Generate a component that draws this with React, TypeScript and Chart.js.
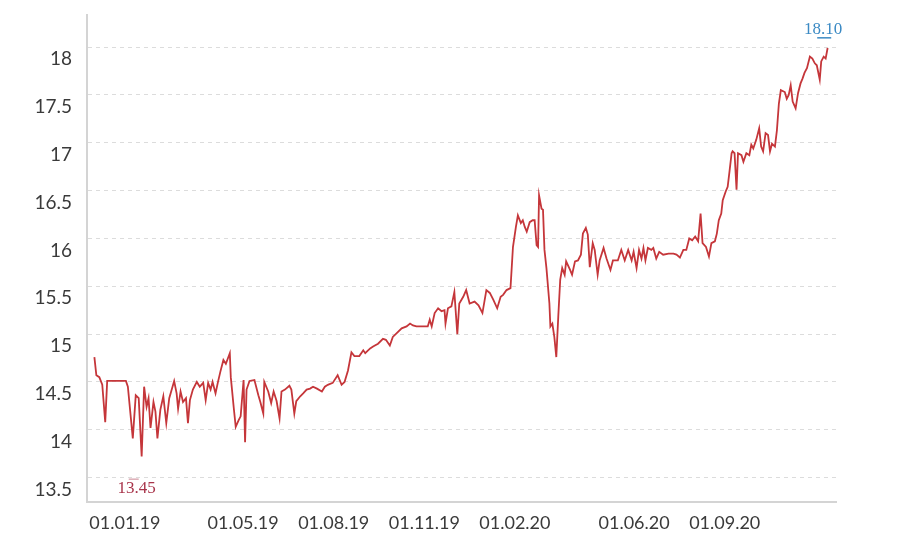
import React, { useEffect, useRef } from "react";
import { Chart, registerables } from "chart.js";

Chart.register(...registerables);

// Days counted from 01.01.2019
const dayOffsets: number[] = [
  -31, -29, -26, -23, -20, -18, 1, 3, 8, 11, 14, 17, 19.5, 22, 24, 26, 29, 31, 33, 36,
  39, 42, 45, 50, 52.5, 54, 56.5, 59, 62, 64, 66, 69, 73, 76, 79.5, 82, 84.5, 87, 89, 92,
  94.5, 97, 100, 102.5, 106.5, 107.5, 110.5, 112.5, 115.5, 117.5, 120.5, 122, 123.5, 126.5, 131.5, 135.5, 137.5, 140.5, 141.5, 145.5,
  148.5, 151, 154, 157, 159, 162.5, 167, 169, 172, 174, 178, 181, 184.5, 188, 191, 195, 200, 203, 206, 211,
  216, 220, 223, 226.5, 230, 233, 238, 242, 244, 249, 252, 257, 262, 265, 269, 272, 276, 281, 286, 289.5,
  292.5, 296, 302.5, 307.5, 309.5, 311.5, 314.5, 318, 321.5, 324.5, 325.5, 328, 331.5, 334.5, 337.5, 339.5, 343.5, 346.5, 350, 355,
  359, 363, 367, 370.5, 374, 378, 381.5, 384, 387.5, 391.5, 394, 397, 399, 402, 404, 406, 408, 411, 414, 416,
  418, 419.5, 420.5, 423, 424.5, 426, 428, 431, 432, 434, 436, 438, 440, 442, 444, 446.5, 448, 452, 454, 457,
  460, 463, 465, 468, 470, 472, 475, 477, 480, 482, 486, 489, 493, 495.5, 500.5, 504, 507.5, 511, 514.5, 516.5,
  519.5, 522, 524.5, 526.5, 528.5, 531, 534.5, 536.5, 539.5, 542.5, 546.5, 552, 557, 560, 563.5, 567, 570, 573, 576, 579,
  582, 584.5, 586.5, 590, 593, 595.5, 599, 601, 603, 605.5, 607, 610, 612, 614, 616, 617, 619, 621, 622.5, 626,
  628, 631, 634, 636, 638, 641, 644, 646, 648, 650.5, 653, 655, 657, 660, 662, 664, 666, 670, 672, 674,
  676, 678, 681, 683.5, 686, 688, 690, 692.5, 695.5, 698, 700.5, 702.5, 705.5, 707, 709.5, 711.5, 713.5,
];

const rates: number[] = [
  14.76, 14.57, 14.55, 14.47, 14.08, 14.51, 14.51, 14.45, 13.91, 14.36, 14.33, 13.72, 14.45, 14.24, 14.33, 14.02, 14.29, 14.19, 13.91, 14.21,
  14.35, 14.07, 14.33, 14.51, 14.38, 14.22, 14.40, 14.29, 14.33, 14.07, 14.31, 14.42, 14.50, 14.45, 14.49, 14.31, 14.49, 14.42, 14.50, 14.38,
  14.50, 14.61, 14.73, 14.69, 14.80, 14.55, 14.23, 14.03, 14.10, 14.14, 14.52, 13.87, 14.42, 14.51, 14.52, 14.36, 14.29, 14.17, 14.50, 14.40,
  14.28, 14.40, 14.30, 14.12, 14.40, 14.42, 14.46, 14.42, 14.17, 14.30, 14.35, 14.38, 14.42, 14.43, 14.45, 14.43, 14.40, 14.45, 14.47, 14.49,
  14.57, 14.47, 14.50, 14.62, 14.81, 14.77, 14.77, 14.83, 14.80, 14.85, 14.87, 14.90, 14.95, 14.94, 14.88, 14.97, 15.01, 15.06, 15.08, 15.11,
  15.09, 15.08, 15.08, 15.08, 15.15, 15.08, 15.22, 15.27, 15.24, 15.25, 15.11, 15.27, 15.29, 15.44, 15.00, 15.32, 15.39, 15.46, 15.32, 15.34,
  15.30, 15.22, 15.46, 15.43, 15.36, 15.27, 15.39, 15.41, 15.46, 15.48, 15.91, 16.12, 16.24, 16.16, 16.19, 16.12, 16.07, 16.17, 16.19, 16.19,
  15.93, 15.91, 16.45, 16.31, 16.30, 15.88, 15.69, 15.32, 15.08, 15.11, 14.97, 14.76, 15.18, 15.57, 15.69, 15.62, 15.76, 15.67, 15.62, 15.76,
  15.77, 15.83, 16.05, 16.11, 16.04, 15.70, 15.95, 15.88, 15.62, 15.77, 15.90, 15.79, 15.67, 15.77, 15.77, 15.88, 15.77, 15.88, 15.77, 15.86,
  15.69, 15.88, 15.79, 15.90, 15.77, 15.90, 15.88, 15.90, 15.79, 15.86, 15.83, 15.84, 15.84, 15.83, 15.80, 15.88, 15.88, 16.00, 15.98, 16.02,
  15.97, 16.26, 15.95, 15.91, 15.81, 15.95, 15.97, 16.05, 16.19, 16.26, 16.40, 16.49, 16.54, 16.71, 16.89, 16.91, 16.89, 16.51, 16.89, 16.87,
  16.80, 16.89, 16.87, 16.98, 16.94, 17.03, 17.15, 16.96, 16.91, 17.10, 17.08, 16.91, 16.99, 16.96, 17.13, 17.41, 17.55, 17.53, 17.46, 17.50,
  17.60, 17.43, 17.36, 17.52, 17.62, 17.67, 17.73, 17.78, 17.90, 17.88, 17.83, 17.81, 17.66, 17.85, 17.90, 17.88, 17.99,
];

const tickDays: number[] = [0, 120, 212, 304, 396, 517, 609];
const tickLabels: string[] = ["01.01.19", "01.05.19", "01.08.19", "01.11.19", "01.02.20", "01.06.20", "01.09.20"];
const yTicks: number[] = [13.5, 14, 14.5, 15, 15.5, 16, 16.5, 17, 17.5, 18];

const minNote = { text: "13.45", day: 12, value: 13.39 };
const maxNote = { text: "18.10", day: 709, value: 18.18 };

const notesPlugin = {
  id: "notes",
  afterDatasetsDraw(chart: any) {
    const { ctx, scales } = chart;
    const xs = scales.x;
    const ys = scales.y;
    ctx.save();
    ctx.textAlign = "center";
    ctx.textBaseline = "middle";
    ctx.font = "17px 'Liberation Serif', serif";

    const mx = xs.getPixelForValue(minNote.day);
    const my = ys.getPixelForValue(minNote.value);
    ctx.fillStyle = "#a8344a";
    ctx.fillText(minNote.text, mx, my);
    ctx.strokeStyle = "rgba(168,52,74,0.6)";
    ctx.lineWidth = 1;
    ctx.beginPath();
    ctx.moveTo(mx - 8, my - 9);
    ctx.lineTo(mx + 2, my - 9);
    ctx.stroke();

    const Mx = xs.getPixelForValue(maxNote.day);
    const My = ys.getPixelForValue(maxNote.value);
    ctx.fillStyle = "#3b8ac4";
    ctx.fillText(maxNote.text, Mx, My);
    ctx.strokeStyle = "#3b8ac4";
    ctx.lineWidth = 1.5;
    ctx.beginPath();
    ctx.moveTo(Mx - 6, My + 8);
    ctx.lineTo(Mx + 8, My + 8);
    ctx.stroke();
    ctx.restore();
  },
};

export default function App() {
  const ref = useRef<HTMLCanvasElement | null>(null);

  useEffect(() => {
    if (!ref.current) return;
    const points = dayOffsets.map((d, i) => ({ x: d, y: rates[i] }));
    const chart = new Chart(ref.current, {
      type: "line",
      data: {
        datasets: [
          {
            data: points,
            borderColor: "#c5363a",
            borderWidth: 1.8,
            pointRadius: 0,
            tension: 0,
            fill: false,
          },
        ],
      },
      options: {
        responsive: false,
        animation: false,
        layout: { padding: { top: 15, right: 64, left: 0, bottom: 0 } },
        plugins: {
          legend: { display: false },
          tooltip: { enabled: false },
        },
        scales: {
          x: {
            type: "linear",
            min: -38.5,
            max: 722,
            afterBuildTicks: (scale: any) => {
              scale.ticks = tickDays.map((v) => ({ value: v }));
            },
            afterFit: (scale: any) => {
              scale.height = 42;
              scale.paddingLeft = 0;
              scale.paddingRight = 0;
            },
            grid: { display: false, drawTicks: false },
            border: { display: true, color: "#d4d4d4", width: 2 },
            ticks: {
              autoSkip: false,
              maxRotation: 0,
              padding: 10,
              color: "#3a3a3a",
              font: { family: "Lato", size: 18 },
              callback: (_v: any, i: number) => tickLabels[i],
            },
          },
          y: {
            type: "linear",
            min: 13.245,
            max: 18.335,
            afterBuildTicks: (scale: any) => {
              scale.ticks = yTicks.map((v) => ({ value: v }));
            },
            afterFit: (scale: any) => {
              scale.width = 87;
              scale.paddingTop = 0;
              scale.paddingBottom = 0;
            },
            grid: { color: "#dcdcdc", lineWidth: 1, drawTicks: false },
            border: { display: true, color: "#d4d4d4", width: 2, dash: [4, 4] },
            ticks: {
              padding: 15,
              labelOffset: 12,
              color: "#3a3a3a",
              font: { family: "Lato", size: 19 },
              callback: (v: any) => String(v),
            },
          },
        },
      },
      plugins: [notesPlugin],
    });
    return () => chart.destroy();
  }, []);

  return (
    <div style={{ position: "absolute", left: 0, top: 0, width: 900, height: 544, background: "#fff" }}>
      <canvas ref={ref} width={900} height={544} />
    </div>
  );
}
